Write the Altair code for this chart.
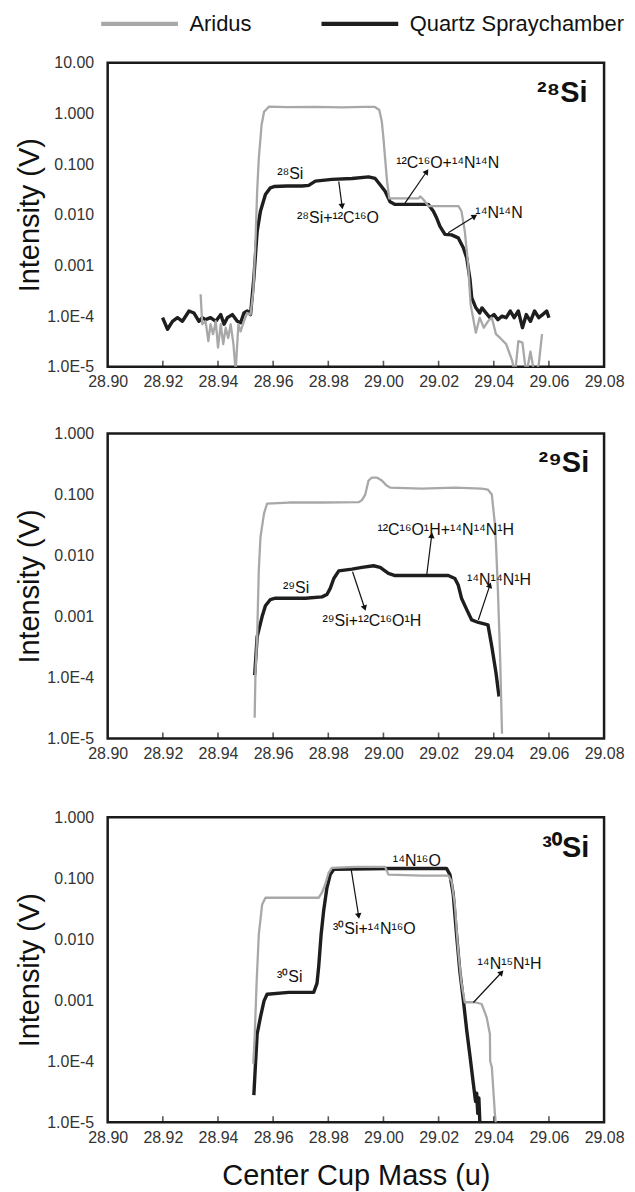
import math
import altair as alt
import pandas as pd

SERIES = ["Aridus", "Quartz Spraychamber"]
COLORS = ["#a8a8a8", "#1e1e1e"]

x_ticks = [28.90, 28.92, 28.94, 28.96, 28.98, 29.00, 29.02, 29.04, 29.06, 29.08]
x_inner_ticks = [28.92, 28.94, 28.96, 28.98, 29.00, 29.02, 29.04, 29.06]
y_ticks_28 = [1e-5, 1e-4, 1e-3, 1e-2, 1e-1, 1.0, 10.0]
y_labels_28 = ["1.0E-5", "1.0E-4", "0.001", "0.010", "0.100", "1.000", "10.00"]
y_ticks_29 = [1e-5, 1e-4, 1e-3, 1e-2, 1e-1, 1.0]
y_labels_29 = ["1.0E-5", "1.0E-4", "0.001", "0.010", "0.100", "1.000"]

# ---- 28Si panel ----
si28_aridus_mass = [28.9337, 28.9343, 28.9355, 28.9365, 28.9373, 28.9382, 28.9392, 28.9400, 28.9410, 28.9419,
                    28.9428, 28.9437, 28.9446, 28.9456, 28.9464, 28.9474, 28.9482, 28.9494, 28.9506, 28.9518,
                    28.9528, 28.9536, 28.9542, 28.9548, 28.9558, 28.9567, 28.9585, 28.9650, 28.9750, 28.9850,
                    28.9930, 28.9969, 28.9985, 28.9994, 29.0000, 29.0006, 29.0013, 29.0021, 29.0067, 29.0127,
                    29.0133, 29.0145, 29.0163, 29.0272, 29.0283, 29.0295, 29.0307, 29.0316, 29.0335, 29.0349,
                    29.0364, 29.0379, 29.0393, 29.0408, 29.0423, 29.0445, 29.0467, 29.0477, 29.0489, 29.0504,
                    29.0518, 29.0533, 29.0548, 29.0563, 29.0575]
si28_aridus_int = [2.7e-4, 6.9e-5, 7.9e-5, 3.2e-5, 6.9e-5, 4.4e-5, 7.9e-5, 2.4e-5, 6.9e-5, 2.8e-5,
                   5.9e-5, 3.7e-5, 6.9e-5, 2.8e-5, 8e-6, 6.9e-5, 5.0e-5, 7.9e-5, 1.15e-4, 1.07e-4,
                   3.1e-4, 0.003, 0.029, 0.13, 0.59, 1.08, 1.36, 1.33, 1.35, 1.32,
                   1.34, 1.34, 1.17, 0.69, 0.32, 0.13, 0.046, 0.021, 0.021, 0.021,
                   0.023, 0.020, 0.0148, 0.0148, 0.0117, 0.0047, 0.00105, 1.7e-4, 4.7e-5, 9.3e-5,
                   5.9e-5, 7.9e-5, 9.3e-5, 4.4e-5, 3.7e-5, 2.8e-5, 1.3e-5, 7e-6, 3.2e-5, 3.0e-5,
                   7e-6, 2.0e-5, 7e-6, 1.1e-5, 4.4e-5]
si28_quartz_mass = [28.9199, 28.9217, 28.9235, 28.9253, 28.9271, 28.9295, 28.9313, 28.9331, 28.9343, 28.9355,
                    28.9373, 28.9392, 28.9410, 28.9422, 28.9434, 28.9452, 28.9470, 28.9482, 28.9494, 28.9506,
                    28.9518, 28.9530, 28.9542, 28.9554, 28.9572, 28.9590, 28.9603, 28.9650, 28.9705, 28.9729,
                    28.9753, 28.9813, 28.9886, 28.9946, 28.9970, 28.9988, 29.0006, 29.0024, 29.0042, 29.0103,
                    29.0163, 29.0181, 29.0193, 29.0205, 29.0223, 29.0247, 29.0271, 29.0290, 29.0302, 29.0314,
                    29.0320, 29.0334, 29.0349, 29.0357, 29.0371, 29.0386, 29.0401, 29.0415, 29.0430, 29.0445,
                    29.0460, 29.0474, 29.0489, 29.0504, 29.0518, 29.0533, 29.0548, 29.0563, 29.0577, 29.0592,
                    29.0600]
si28_quartz_int = [9.3e-5, 5.5e-5, 7.9e-5, 9.3e-5, 7.9e-5, 1.26e-4, 1.15e-4, 7.9e-5, 9.3e-5, 8.5e-5,
                   9.3e-5, 7.9e-5, 1.07e-4, 6.9e-5, 9.3e-5, 1.07e-4, 7.9e-5, 7.4e-5, 1.15e-4, 1.26e-4,
                   1.07e-4, 5.6e-4, 4.7e-3, 0.0117, 0.025, 0.034, 0.036, 0.037, 0.037, 0.038,
                   0.046, 0.050, 0.052, 0.056, 0.052, 0.039, 0.029, 0.018, 0.016, 0.016,
                   0.016, 0.0117, 0.0086, 0.0059, 0.0041, 0.0040, 0.0035, 0.0022, 0.0014, 5.2e-4,
                   2.3e-4, 1.5e-4, 1.15e-4, 1.45e-4, 1.17e-4, 9.3e-5, 1.07e-4, 8.5e-5, 1.0e-4, 9.3e-5,
                   1.26e-4, 9.3e-5, 1.26e-4, 5.9e-5, 1.07e-4, 7.9e-5, 1.26e-4, 9.3e-5, 1.07e-4, 1.26e-4,
                   9.3e-5]
si28_ann_text = ["²⁸Si", "²⁸Si+¹²C¹⁶O", "¹²C¹⁶O+¹⁴N¹⁴N", "¹⁴N¹⁴N"]
si28_ann_mass = [28.9662, 28.9835, 29.0233, 29.0419]
si28_ann_int = [0.065, 0.0086, 0.104, 0.0108]
si28_arrow_from_mass = [28.9838, 29.0078, 29.0235]
si28_arrow_from_int = [0.0454, 0.017, 0.0044]
si28_arrow_to_mass = [28.9850, 29.0157, 29.0331]
si28_arrow_to_int = [0.0146, 0.0714, 0.0093]

# ---- 29Si panel ----
si29_aridus_mass = [28.9533, 28.9536, 28.9542, 28.9548, 28.9554, 28.9567, 28.9578, 28.9657, 28.9777, 28.9910,
                    28.9922, 28.9934, 28.9946, 28.9958, 28.9976, 28.9994, 29.0012, 29.0024, 29.0139, 29.0259,
                    29.0356, 29.0379, 29.0393, 29.0404, 29.0408, 29.0415, 29.0423, 29.0430]
si29_aridus_int = [2.2e-5, 1.3e-4, 4.7e-4, 0.0058, 0.020, 0.049, 0.071, 0.074, 0.074, 0.075,
                   0.081, 0.10, 0.17, 0.19, 0.19, 0.17, 0.14, 0.13, 0.125, 0.13,
                   0.125, 0.12, 0.10, 0.033, 0.016, 0.0027, 2.2e-4, 1.2e-5]
si29_quartz_mass = [28.9533, 28.9542, 28.9548, 28.9560, 28.9572, 28.9590, 28.9608, 28.9717, 28.9777, 28.9795,
                    28.9807, 28.9820, 28.9838, 28.9886, 28.9922, 28.9964, 28.9988, 29.0018, 29.0042, 29.0235,
                    29.0259, 29.0271, 29.0283, 29.0302, 29.0320, 29.0344, 29.0379, 29.0393, 29.0408, 29.0419]
si29_quartz_int = [1.1e-4, 4.7e-4, 6.0e-4, 0.0010, 0.0015, 0.0019, 0.0020, 0.0020, 0.0021, 0.0023,
                   0.0029, 0.0042, 0.0056, 0.0060, 0.0064, 0.0068, 0.0064, 0.0051, 0.0047, 0.0047,
                   0.0042, 0.0033, 0.0020, 0.0013, 8.8e-4, 8.0e-4, 7.3e-4, 3.2e-4, 1.2e-4, 4.9e-5]
si29_ann_text = ["²⁹Si", "²⁹Si+¹²C¹⁶O¹H", "¹²C¹⁶O¹H+¹⁴N¹⁴N¹H", "¹⁴N¹⁴N¹H"]
si29_ann_mass = [28.9683, 28.9958, 29.0226, 29.0419]
si29_ann_int = [0.0029, 8.3e-4, 0.026, 0.0040]
si29_arrow_from_mass = [28.9888, 29.0157, 29.0344]
si29_arrow_from_int = [0.00542, 0.0048, 8.8e-4]
si29_arrow_to_mass = [28.9932, 29.0175, 29.0386]
si29_arrow_to_int = [0.00137, 0.0215, 0.00328]

# ---- 30Si panel ----
si30_aridus_mass = [28.9528, 28.9533, 28.9540, 28.9548, 28.9560, 28.9572, 28.9657, 28.9765, 28.9777, 28.9789,
                    28.9801, 28.9813, 28.9898, 29.0006, 29.0018, 29.0139, 29.0235, 29.0247, 29.0259, 29.0271,
                    29.0283, 29.0295, 29.0332, 29.0356, 29.0374, 29.0386, 29.0387, 29.0393, 29.0404, 29.0408]
si30_aridus_int = [9.1e-5, 2.5e-4, 0.0019, 0.012, 0.037, 0.048, 0.048, 0.048, 0.058, 0.080,
                   0.123, 0.148, 0.154, 0.154, 0.115, 0.111, 0.111, 0.090, 0.037, 0.0065,
                   0.0019, 9.3e-4, 9.3e-4, 8.7e-4, 5.3e-4, 2.8e-4, 1.0e-4, 8e-5, 1.4e-5, 9e-6]
si30_quartz_mass = [28.9530, 28.9536, 28.9542, 28.9554, 28.9567, 28.9578, 28.9657, 28.9747, 28.9759, 28.9765,
                    28.9774, 28.9783, 28.9795, 28.9807, 28.9820, 29.0018, 29.0229, 29.0241, 29.0253, 29.0265,
                    29.0277, 29.0290, 29.0302, 29.0314, 29.0326, 29.0334, 29.0338, 29.0342, 29.0346, 29.0350]
si30_quartz_int = [2.8e-5, 9.1e-5, 2.8e-4, 5.3e-4, 9.8e-4, 0.00126, 0.00135, 0.00135, 0.0019, 0.0035,
                   0.012, 0.029, 0.07, 0.115, 0.14, 0.145, 0.145, 0.115, 0.055, 0.012,
                   0.0030, 9.8e-4, 3.2e-4, 1.2e-4, 4.3e-5, 2.2e-5, 3.0e-5, 1.4e-5, 2.5e-5, 9e-6]
si30_ann_text = ["¹⁴N¹⁶O", "³⁰Si+¹⁴N¹⁶O", "³⁰Si", "¹⁴N¹⁵N¹H"]
si30_ann_mass = [29.0121, 28.9967, 28.9660, 29.0457]
si30_ann_int = [0.191, 0.0146, 0.00237, 0.0039]
si30_arrow_from_mass = [28.9883, 29.0326]
si30_arrow_from_int = [0.14, 9.2e-4]
si30_arrow_to_mass = [28.9910, 29.0428]
si30_arrow_to_int = [0.0241, 0.00286]

iso_labels = ["²⁸Si", "²⁹Si", "³⁰Si"]
iso_mass = [29.074, 29.0746, 29.0746]
iso_int = [2.49, 0.324, 0.315]

FONT = "Liberation Sans"
W = 498
X_DOMAIN = [x_ticks[0], x_ticks[-1]]


def label_expr(values, labels):
    parts = [f"datum.value < {v * 3:g} ? '{l}' : " for v, l in zip(values[:-1], labels[:-1])]
    return "".join(parts) + f"'{labels[-1]}'"


def panel(ar_m, ar_v, qz_m, qz_v, ann_t, ann_m, ann_v, af_m, af_v, at_m, at_v,
          iso_i, yticks, ylabels, H, legend, xtitle):
    ydom = [yticks[0], yticks[-1]]
    xs = alt.Scale(domain=X_DOMAIN, nice=False, zero=False)
    ys = alt.Scale(type="log", domain=ydom, nice=False)
    xaxis_kw = dict(values=x_ticks, format=".2f", labelPadding=7, labelFlush=False)
    if xtitle:
        xaxis_kw.update(title=xtitle, titlePadding=16)
    else:
        xaxis_kw.update(title=None)
    xaxis = alt.Axis(**xaxis_kw)
    yaxis = alt.Axis(values=yticks, labelExpr=label_expr(yticks, ylabels), title="Intensity (V)",
                     labelPadding=14, titlePadding=2)

    def X(f="mass"):
        return alt.X(f"{f}:Q", scale=xs, axis=xaxis)

    def Y(f="value"):
        return alt.Y(f"{f}:Q", scale=ys, axis=yaxis)

    color = alt.Color("series:N", scale=alt.Scale(domain=SERIES, range=COLORS), legend=legend)

    ar = pd.DataFrame({"mass": ar_m, "value": ar_v, "series": SERIES[0]})
    qz = pd.DataFrame({"mass": qz_m, "value": qz_v, "series": SERIES[1]})

    quartz_line = alt.Chart(qz).mark_line(strokeWidth=3.4, clip=True, strokeJoin="round").encode(
        x=X(), y=Y(), color=color, order="mass:Q")
    aridus_line = alt.Chart(ar).mark_line(strokeWidth=2.3, clip=True, strokeJoin="round").encode(
        x=X(), y=Y(), color=color, order="mass:Q")

    ann = pd.DataFrame({"mass": ann_m, "value": ann_v, "label": ann_t})
    ann_layer = alt.Chart(ann).mark_text(font=FONT, fontSize=16, color="#111", align="center",
                                         baseline="middle").encode(x=X(), y=Y(), text="label:N")

    log_span = math.log10(ydom[1]) - math.log10(ydom[0])
    px_m = W / (X_DOMAIN[1] - X_DOMAIN[0])
    px_d = H / log_span
    angles = []
    for m1, v1, m2, v2 in zip(af_m, af_v, at_m, at_v):
        dx = (m2 - m1) * px_m
        dy = -(math.log10(v2) - math.log10(v1)) * px_d
        angles.append((math.degrees(math.atan2(dx, -dy)) + 360) % 360)
    arrows = pd.DataFrame({"mass": af_m, "value": af_v, "mass2": at_m, "value2": at_v})
    heads = pd.DataFrame({"mass": at_m, "value": at_v, "angle": angles})
    arrow_layer = alt.Chart(arrows).mark_rule(color="#111", strokeWidth=1.2).encode(
        x=X(), y=Y(), x2="mass2:Q", y2="value2:Q")
    head_layer = alt.Chart(heads).mark_point(shape="triangle-up", filled=True, color="#111",
                                             size=42, opacity=1).encode(
        x=X(), y=Y(), angle=alt.Angle("angle:Q", scale=None))

    iso = pd.DataFrame({"mass": [iso_mass[iso_i]], "value": [iso_int[iso_i]], "label": [iso_labels[iso_i]]})
    iso_layer = alt.Chart(iso).mark_text(font=FONT, fontSize=29, fontWeight="bold", color="#111",
                                         align="right", baseline="middle").encode(
        x=X(), y=Y(), text="label:N")

    tick_df = pd.DataFrame({"mass": x_inner_ticks})
    tick_layer = alt.Chart(tick_df).mark_tick(color="#111", size=6, thickness=1.6).encode(
        x=X(), y=alt.value(H - 3))

    return alt.layer(quartz_line, aridus_line, arrow_layer, head_layer, ann_layer, iso_layer,
                     tick_layer).properties(width=W, height=H)


legend = alt.Legend(orient="none", legendX=-9, legendY=-50, direction="horizontal", title=None,
                    symbolType="stroke", symbolSize=5929, symbolStrokeWidth=4.2, clipHeight=22,
                    labelFont=FONT, labelFontSize=22, labelColor="#111", labelLimit=400, labelOffset=9,
                    columnPadding=67)

p1 = panel(si28_aridus_mass, si28_aridus_int, si28_quartz_mass, si28_quartz_int,
           si28_ann_text, si28_ann_mass, si28_ann_int,
           si28_arrow_from_mass, si28_arrow_from_int, si28_arrow_to_mass, si28_arrow_to_int,
           0, y_ticks_28, y_labels_28, 305, legend, None)
p2 = panel(si29_aridus_mass, si29_aridus_int, si29_quartz_mass, si29_quartz_int,
           si29_ann_text, si29_ann_mass, si29_ann_int,
           si29_arrow_from_mass, si29_arrow_from_int, si29_arrow_to_mass, si29_arrow_to_int,
           1, y_ticks_29, y_labels_29, 306, None, None)
p3 = panel(si30_aridus_mass, si30_aridus_int, si30_quartz_mass, si30_quartz_int,
           si30_ann_text, si30_ann_mass, si30_ann_int,
           si30_arrow_from_mass, si30_arrow_from_int, si30_arrow_to_mass, si30_arrow_to_int,
           2, y_ticks_29, y_labels_29, 306, None, "Center Cup Mass (u)")

inner = alt.vconcat(p2, p3, spacing=44).resolve_scale(color="independent")
chart = alt.vconcat(p1, inner, spacing=32).resolve_scale(color="independent").properties(
    padding={"left": 6, "top": 1, "right": 0, "bottom": 0}
).configure_view(stroke="#1a1a1a", strokeWidth=2.5).configure_axis(
    grid=False, domain=False, ticks=False, labelFont=FONT, labelFontSize=16, labelColor="#333",
    titleFont=FONT, titleFontSize=29, titleFontWeight="normal", titleColor="#111"
)

chart.save("out.html", embed_options={"renderer": "svg", "actions": False})
